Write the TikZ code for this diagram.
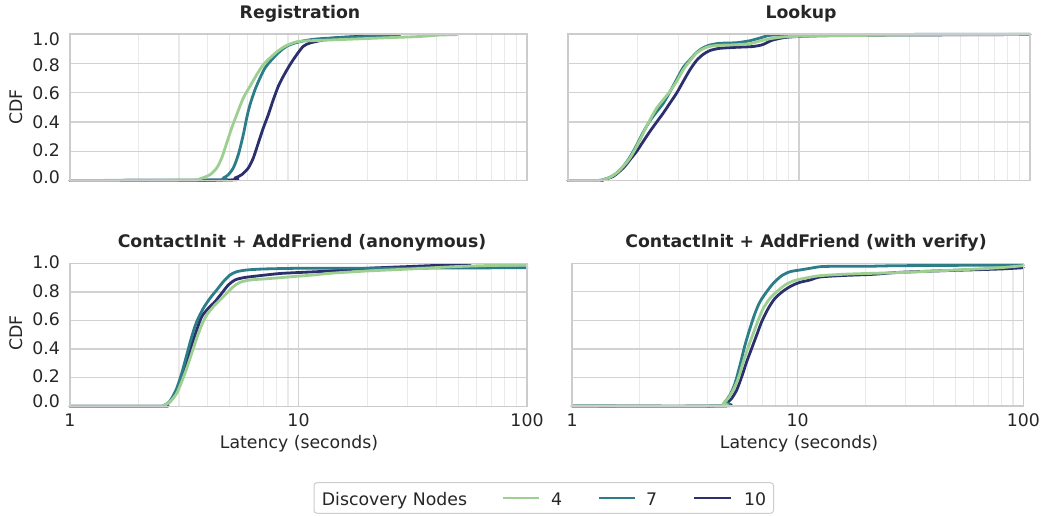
\documentclass[tikz,border=0pt]{standalone}
\usepackage{fontspec}
\setmainfont{DejaVu Sans}
\definecolor{txt}{HTML}{262626}
\definecolor{nodesfour}{HTML}{9DCF90}
\definecolor{nodesseven}{HTML}{2C7D88}
\definecolor{nodesten}{HTML}{2B2F6E}
\definecolor{gridmaj}{HTML}{D2D2D2}
\definecolor{gridmin}{HTML}{E9E9E9}
\definecolor{spine}{HTML}{CCCCCC}

% grid of one semilog-x CDF panel: left, right, top, bottom (pixel units)
\newcommand{\cdfgrid}[4]{%
  \pgfmathsetmacro{\pdec}{(#2-#1)/2}%
  \foreach \k in {2,...,9}{%
    \pgfmathsetmacro{\gxa}{#1+\pdec*log10(\k)}%
    \pgfmathsetmacro{\gxb}{#1+\pdec*(1+log10(\k))}%
    \draw[minorgrid] (\gxa,#3) -- (\gxa,#4);
    \draw[minorgrid] (\gxb,#3) -- (\gxb,#4);
  }%
  \draw[majorgrid] ({#1+\pdec},#3) -- ({#1+\pdec},#4);
  \foreach \j in {1,...,4}{%
    \pgfmathsetmacro{\gy}{#4+(#3-#4)*\j/5}%
    \draw[majorgrid] (#1,\gy) -- (#2,\gy);
  }%
}

\begin{document}
\begin{tikzpicture}[x=1pt, y=-1pt,
  every node/.style={font=\fontsize{17.3}{20}\selectfont, text=txt, inner sep=0pt},
  title/.style={font=\fontsize{17.3}{20}\selectfont\bfseries, anchor=base},
  ytick/.style={anchor=east},
  xtick/.style={anchor=base},
  minorgrid/.style={draw=gridmin, line width=1.1pt},
  majorgrid/.style={draw=gridmaj, line width=1.3pt},
  frame/.style={draw=spine, line width=1.6pt},
  cdf/.style={line width=2.8pt, line join=round, line cap=round},
  c4/.style={cdf, draw=nodesfour},
  c7/.style={cdf, draw=nodesseven},
  c10/.style={cdf, draw=nodesten},
  smoothed/.style={smooth, tension=0.45}]
\useasboundingbox (0,0) rectangle (1046,516);
\fill[white] (0,0) rectangle (1046,516);

% ---------------- Registration ----------------
\cdfgrid{70}{527}{34.3}{180.5}
\draw[c10] plot[smoothed] coordinates {(70,180.5) (226.7,180) (235,178) (241.7,174.7) (248.3,168) (253.3,158) (258.3,143) (263.3,128) (268.3,114.7) (273.3,99.7) (278.3,86.3) (283.3,76.3) (290,64.7) (296.7,54.7) (303.3,46.3) (310,43) (320,40.7) (333.3,38) (353.3,36.7) (380,35.5) (395,34.8)};
\draw[c7] plot[smoothed] coordinates {(70,180.5) (216.7,180) (223.3,178) (228.3,174.7) (233.3,168) (238.3,154.7) (243.3,134.7) (246.7,118) (250,104.7) (255,89.7) (260,78) (265,68) (271.7,59.7) (280,51.3) (286.7,46.3) (295,43) (306.7,40.3) (320,38.7) (346.7,37.3) (380,36) (400,34.8)};
\draw[c4] plot[smoothed] coordinates {(70,180.5) (190,180) (200,178.7) (210,174.7) (216.7,168) (221.7,158) (226.7,143) (231.7,128) (236.7,114.7) (243.3,98) (250,86.3) (256.7,74.7) (263.3,64.7) (270,58) (276.7,52) (283.3,47.3) (290,44) (300,41.3) (330,40) (380,38) (420,36.5) (440,35) (457,34.8)};
\draw[frame] (70,34.3) rectangle (527,180.5);
\node[title] (t1) at (300,18.3) {Registration};
\node[ytick] (p1y10) at (60,39.2) {1.0};
\node[ytick] (p1y08) at (60,65) {0.8};
\node[ytick] (p1y06) at (60,93.7) {0.6};
\node[ytick] (p1y04) at (60,122.2) {0.4};
\node[ytick] (p1y02) at (60,150.3) {0.2};
\node[ytick] (p1y00) at (60,177.5) {0.0};
\node[rotate=90] (p1lab) at (16,107) {CDF};

% ---------------- Lookup ----------------
\cdfgrid{568}{1030}{34.3}{180.5}
\draw[c10] plot[smoothed] coordinates {(568,180.5) (600,180.5) (603.3,179.7) (613.3,176.3) (623.3,168) (630,159.7) (636.7,151.3) (643.3,141.3) (650,131.3) (656.7,122) (663.3,113) (670,103) (676.7,93) (683.3,81.3) (690,69.7) (696.7,60.3) (703.3,54.3) (710,50.5) (720,48.3) (736.7,47.3) (753.3,46.5) (763,44.5) (772,40.3) (785,37.5) (803.3,36.3) (850,35.3) (1030,34.5)};
\draw[c7] plot[smoothed] coordinates {(568,180.5) (596.7,180.5) (603.3,179.7) (610,177.3) (616.7,173) (623.3,166.3) (630,157) (636.7,145) (643.3,132) (650,120.7) (656.7,111.7) (663.3,103.3) (670,91.7) (676.7,79.3) (683.3,67.3) (690,59.7) (696.7,52.3) (703.3,47.7) (710,45) (720,43.3) (736.7,42.7) (750,40.7) (760,38) (770,35.3) (786.7,34.7) (820,34.5) (1030,34.3)};
\draw[c4] plot[smoothed] coordinates {(568,180.5) (596.7,180.5) (603.3,179.7) (610,177.3) (616.7,173) (623.3,166.3) (630,158) (636.7,146.3) (643.3,133) (650,119.7) (656.7,108) (663.3,99.7) (670,91.3) (676.7,81.3) (683.3,69.7) (690,60.7) (696.7,53) (703.3,48.7) (710,46.3) (720,45.3) (736.7,44.7) (750,43.7) (760,41) (770,38.7) (786.7,36.7) (820,36) (900,35) (1030,34.3)};
\draw[frame] (568,34.3) rectangle (1030,180.5);
\node[title] (t2) at (801,18.3) {Lookup};

% ---------------- ContactInit + AddFriend (anonymous) ----------------
\cdfgrid{70}{527}{263.3}{406.3}
\draw[c10] plot[smoothed] coordinates {(70,406.3) (160,406.3) (163.3,405.7) (170,401.7) (176.7,391.7) (181.7,378.3) (186.7,361.7) (191.7,345) (196.7,330) (201.7,316.7) (208.3,308.3) (215,301.7) (221.7,293.3) (228.3,285) (235,280) (243.3,277.7) (256.7,276) (280,273.5) (303.3,272.3) (330,271) (366.7,268.3) (410,266.5) (446.7,265) (470,264.5)};
\draw[c7] plot[smoothed] coordinates {(70,406.3) (161.7,406.3) (166.7,405) (171.7,398.3) (176.7,388.3) (181.7,373.3) (186.7,355) (191.7,336.7) (196.7,321.7) (203.3,308.3) (210,298.3) (216.7,290) (223.3,281.7) (230,275) (236.7,271.7) (246.7,270) (263.3,269) (296.7,268.3) (330,268.3) (400,268.2) (527,267.7)};
\draw[c4] plot[smoothed] coordinates {(70,406.3) (160,406.3) (163.3,405.7) (170,401.7) (176.7,393.3) (181.7,381.7) (186.7,368.3) (191.7,353.3) (196.7,338.3) (201.7,325) (206.7,315) (213.3,306.7) (220,300) (226.7,293.3) (233.3,286.7) (240,282.3) (250,280) (263.3,279) (280,277.7) (296.7,276.3) (313.3,275) (330,273.3) (366.7,271) (410,269) (453.3,266.7) (490,265.5) (527,265)};
\draw[frame] (70,263.3) rectangle (527,406.3);
\node[title] (t3) at (302,247) {ContactInit + AddFriend (anonymous)};
\node[ytick] (p3y10) at (60,262.5) {1.0};
\node[ytick] (p3y08) at (60,290.8) {0.8};
\node[ytick] (p3y06) at (60,319.5) {0.6};
\node[ytick] (p3y04) at (60,347.8) {0.4};
\node[ytick] (p3y02) at (60,376.2) {0.2};
\node[ytick] (p3y00) at (60,400.8) {0.0};
\node[rotate=90] (p3lab) at (16,333) {CDF};
\node[xtick] (p3x1) at (70,426) {1};
\node[xtick] (p3x10) at (298.5,426) {10};
\node[xtick] (p3x100) at (527,426) {100};
\node[xtick] (p3lat) at (299,448.5) {Latency (seconds)};

% ---------------- ContactInit + AddFriend (with verify) ----------------
\cdfgrid{572}{1023.3}{263.3}{406}
\draw[c10] plot[smoothed] coordinates {(572,406) (721.7,406) (726.7,403.3) (731.7,398.3) (736.7,390) (741.7,376.7) (746.7,361.7) (751.7,348.3) (756.7,335) (761.7,321.7) (768.3,308.3) (775,298.3) (783.3,291) (791.7,285.7) (800,282.3) (810,280) (820,277) (843.3,275.5) (873.3,274.3) (900,272.3) (950,270.5) (1000,269) (1023.3,267.7)};
\draw[c7] plot[smoothed] coordinates {(572,406) (720,406) (725,401.7) (730,395) (735,383.3) (740,365) (745,345) (750,328.3) (755,313.3) (760,301.7) (766.7,291.7) (773.3,283.3) (781.7,275.7) (790,271.7) (800,270) (810,268.3) (820,266.7) (833.3,266.3) (866.7,266.3) (900,265.7) (1023.3,265)};
\draw[c4] plot[smoothed] coordinates {(572,406) (718.3,406) (723.3,403.3) (728.3,398.3) (733.3,390) (738.3,378.3) (743.3,361.7) (748.3,346.7) (753.3,333.3) (758.3,320) (763.3,308.3) (770,298.3) (776.7,291.7) (785,285) (793.3,281) (803.3,278.5) (820,275.7) (850,274) (900,272.5) (966.7,269.5) (1000,267.7) (1023.3,265.7)};
\draw[frame] (572,263.3) rectangle (1023.3,406);
\node[title] (t4) at (806,247) {ContactInit + AddFriend (with verify)};
\node[xtick] (p4x1) at (572,426) {1};
\node[xtick] (p4x10) at (797.7,426) {10};
\node[xtick] (p4x100) at (1023.3,426) {100};
\node[xtick] (p4lat) at (799,448.5) {Latency (seconds)};

% ---------------- legend ----------------
\draw[draw=spine, fill=white, line width=1pt, rounded corners=3pt] (314,482.7) rectangle (773.5,513.3);
\node[anchor=base west] (legtitle) at (321.7,505) {Discovery Nodes};
\coordinate (l4a) at (503.3,498);
\coordinate (l4b) at (539.3,498);
\coordinate (l7a) at (599,498);
\coordinate (l7b) at (635,498);
\coordinate (l10a) at (694.3,498);
\coordinate (l10b) at (730.7,498);
\draw[c4, line cap=butt] (l4a) -- (l4b);
\draw[c7, line cap=butt] (l7a) -- (l7b);
\draw[c10, line cap=butt] (l10a) -- (l10b);
\node[anchor=base] (leg4) at (556.7,505) {4};
\node[anchor=base] (leg7) at (651.7,505) {7};
\node[anchor=base] (leg10) at (755,505) {10};
\end{tikzpicture}
\end{document}
